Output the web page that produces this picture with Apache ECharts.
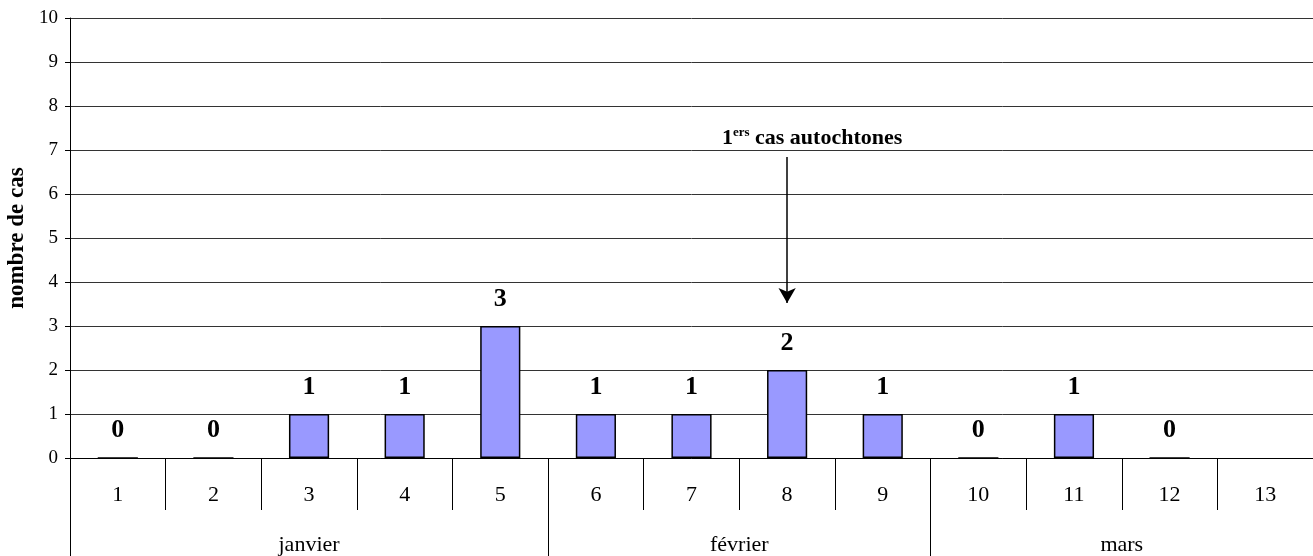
<!DOCTYPE html>
<html><head><meta charset="utf-8">
<script src="https://cdn.jsdelivr.net/npm/echarts@6/dist/echarts.min.js"></script>
<style>html,body{margin:0;padding:0;background:#fff}#c{width:1313px;height:556px}</style>
</head><body><div id="c"></div>
<script>
const weeks = ['1','2','3','4','5','6','7','8','9','10','11','12','13'];
const cases = [0,0,1,1,3,1,1,2,1,0,1,0,null];
const months = ['janvier','février','mars'];
const monthCenters = [2.5, 7, 11];
const monthBounds = [0, 5, 9, 13];
const yTicks = [0,1,2,3,4,5,6,7,8,9,10];
const arrowWeek = '8';
const arrowFrom = 6.84, arrowTo = 3.52;

const font = '"Liberation Serif","Times New Roman",serif';
const chart = echarts.init(document.getElementById('c'));
chart.setOption({
  animation: false,
  grid: {left: 70, right: 0, top: 18, bottom: 98, containLabel: false, outerBoundsMode: 'none'},
  xAxis: [{
    type: 'category', data: weeks, position: 'bottom',
    axisLine: {lineStyle: {color: '#000', width: 1}},
    axisTick: {show: true, interval: 0, length: 52, lineStyle: {color: '#000'}},
    axisLabel: {color: '#000', fontFamily: font, fontSize: 22, margin: 26}
  }, {
    type: 'value', min: 0, max: 13, position: 'bottom',
    axisLine: {show: false},
    splitLine: {show: false},
    axisTick: {show: true, customValues: monthBounds, length: 98, inside: false, lineStyle: {color: '#000'}},
    axisLabel: {show: true, customValues: monthCenters, color: '#000', fontFamily: font, fontSize: 22, margin: 76,
      formatter: v => months[monthCenters.indexOf(v)] || ''}
  }],
  yAxis: {
    type: 'value', min: 0, max: 10, interval: 1,
    name: 'nombre de cas', nameLocation: 'middle', nameGap: 34, nameRotate: 90,
    nameTextStyle: {color: '#000', fontFamily: font, fontSize: 23, fontWeight: 'bold'},
    axisLine: {show: true, lineStyle: {color: '#000'}},
    axisTick: {show: true, length: 5, lineStyle: {color: '#000'}},
    axisLabel: {color: '#000', fontFamily: font, fontSize: 19, margin: 12,
      formatter: v => yTicks.includes(v) ? String(v) : ''},
    splitLine: {show: true, lineStyle: {color: '#333', width: 1}}
  },
  series: [{
    type: 'bar', xAxisIndex: 0, data: cases, barWidth: '42%',
    itemStyle: {color: '#9999FF', borderColor: '#000', borderWidth: 1.5},
    label: {show: true, position: 'top', distance: 14, color: '#000', fontFamily: font, fontSize: 26, fontWeight: 'bold'},
    markLine: {
      silent: true, symbol: ['none', 'arrow'], symbolSize: [13, 15],
      lineStyle: {color: '#000', width: 1.5, type: 'solid'},
      label: {show: true, position: 'start', distance: 6, offset: [25, 0],
        formatter: '{b|1}{s|ers}{b| cas autochtones}',
        rich: {
          b: {color: '#000', fontFamily: font, fontSize: 22, fontWeight: 'bold'},
          s: {color: '#000', fontFamily: font, fontSize: 13, fontWeight: 'bold', verticalAlign: 'top', padding: [0,0,12,0]}
        }},
      data: [[{coord: [arrowWeek, arrowFrom]}, {coord: [arrowWeek, arrowTo]}]]
    }
  }]
});
</script></body></html>
